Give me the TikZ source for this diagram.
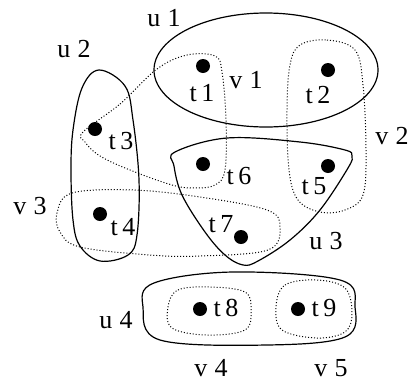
\documentclass[tikz,border=0pt]{standalone}
\usepackage{fontspec}
\setmainfont{Liberation Serif}
\usepackage{tikz}
\usetikzlibrary{positioning}

\begin{document}
\begin{tikzpicture}[x=1pt, y=-1pt,
  pt/.style={circle, fill=black, inner sep=0pt, minimum size=14pt},
  lbl/.style={inner sep=0pt, font=\fontsize{26}{28}\selectfont},
  solidset/.style={draw, line width=1.2pt, smooth cycle, tension=0.6},
  dotset/.style={draw, line width=1pt, dotted, smooth cycle, tension=0.6}
]
  \useasboundingbox (0,0) rectangle (412,381);

  % elements
  \node[pt] (t1) at (203,66) {};
  \node[pt] (t2) at (328,70) {};
  \node[pt] (t3) at (95,129) {};
  \node[pt] (t4) at (100,214) {};
  \node[pt] (t5) at (328,166) {};
  \node[pt] (t6) at (203,164) {};
  \node[pt] (t7) at (241,237) {};
  \node[pt] (t8) at (200,309) {};
  \node[pt] (t9) at (298,309) {};

  % element labels
  \node[lbl] (lt1) at (202,93) {t\,1};
  \node[lbl] (lt2) at (318,95) {t\,2};
  \node[lbl] (lt3) at (121,141) {t\,3};
  \node[lbl] (lt4) at (123,227) {t\,4};
  \node[lbl] (lt5) at (314,186) {t\,5};
  \node[lbl] (lt6) at (239,176) {t\,6};
  \node[lbl] (lt7) at (221,224) {t\,7};
  \node[lbl] (lt8) at (226,308) {t\,8};
  \node[lbl] (lt9) at (324,308) {t\,9};

  % set labels
  \node[lbl] (lu1) at (164,18) {u\;1};
  \node[lbl] (lu2) at (74,49) {u\;2};
  \node[lbl] (lu3) at (326,241) {u\;3};
  \node[lbl] (lu4) at (116,320) {u\;4};
  \node[lbl] (lv1) at (246,80) {v\;1};
  \node[lbl] (lv2) at (392,136) {v\;2};
  \node[lbl] (lv3) at (30,206) {v\;3};
  \node[lbl] (lv4) at (211,368) {v\;4};
  \node[lbl] (lv5) at (331,368) {v\;5};

  % solid sets
  \draw[line width=1.2pt] (266,70) ellipse [x radius=112, y radius=57];
  \path[solidset] plot coordinates {(99,70) (82,88) (73,130) (71,170) (73,220)
    (80,246) (100,261) (128,255) (137,235) (139,180) (133,120) (125,86)};
  \path[solidset] plot coordinates {(175,152) (227,138) (300,142) (345,150)
    (352,156) (348,168) (320,210) (290,240) (258,261) (243,265) (225,255)
    (205,232) (182,195) (174,166)};
  \path[solidset] plot coordinates {(143,307) (154,283) (233,272) (340,280)
    (355,307) (345,337) (267,345) (160,340)};

  % dotted sets
  \path[dotset] plot coordinates {(83,132) (120,104) (157,69) (187,55) (215,56)
    (222,72) (226,120) (225,170) (215,185) (195,188) (172,185) (130,170)
    (100,156) (85,142)};
  \path[dotset] plot coordinates {(300,45) (327,40) (355,50) (363,85) (366,150)
    (363,195) (345,210) (320,212) (298,200) (289,170) (287,110) (290,65)};
  \path[dotset] plot coordinates {(57,213) (72,193) (133,190) (200,197)
    (267,210) (280,227) (268,250) (200,256) (150,255) (80,247) (60,232)};
  \path[dotset] plot coordinates {(168,307) (178,290) (210,287) (245,292)
    (251,310) (245,330) (207,335) (172,328)};
  \path[dotset] plot coordinates {(276,307) (285,285) (317,280) (345,288)
    (352,313) (345,332) (317,338) (282,330)};
\end{tikzpicture}
\end{document}
